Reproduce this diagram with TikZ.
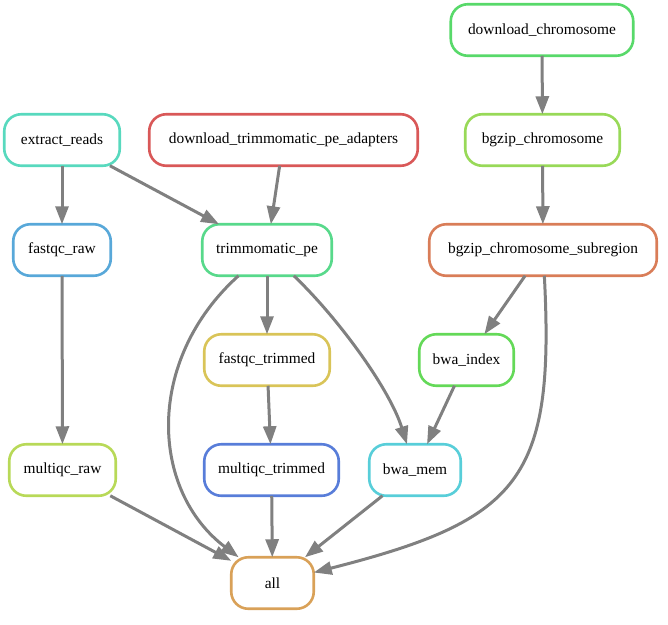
\documentclass[tikz,border=0pt]{standalone}
\usepackage{fontspec}
\setmainfont{Liberation Serif}
\usetikzlibrary{arrows.meta}
\definecolor{edgegray}{RGB}{128,128,128}
\definecolor{cDC}{RGB}{88,217,106}
\definecolor{cER}{RGB}{88,217,190}
\definecolor{cDT}{RGB}{217,88,88}
\definecolor{cBC}{RGB}{152,217,88}
\definecolor{cFR}{RGB}{88,168,217}
\definecolor{cTP}{RGB}{88,217,139}
\definecolor{cBS}{RGB}{217,125,88}
\definecolor{cFT}{RGB}{217,196,88}
\definecolor{cBI}{RGB}{100,217,88}
\definecolor{cMR}{RGB}{184,217,88}
\definecolor{cMT}{RGB}{88,125,217}
\definecolor{cBM}{RGB}{88,206,217}
\definecolor{cAL}{RGB}{217,161,88}
\tikzset{
  rule/.style={draw=#1, line width=2.6pt, rounded corners=17pt, fill=white,
    minimum height=51.5pt, inner sep=0pt, outer sep=0pt, font=\fontsize{15.4pt}{18pt}\selectfont},
  dep/.style={draw=edgegray, line width=3pt, -{Triangle[length=18pt,width=13pt]}}
}
\begin{document}
\begin{tikzpicture}[x=1pt,y=-1pt]
\useasboundingbox (0,0) rectangle (668,624);
\node[rule=cDC, minimum width=182.5pt] (dc) at (542,30) {download\_chromosome};
\node[rule=cER, minimum width=115.5pt] (er) at (62,140) {extract\_reads};
\node[rule=cDT, minimum width=268.5pt] (dt) at (283.5,140) {download\_trimmomatic\_pe\_adapters};
\node[rule=cBC, minimum width=154.5pt] (bc) at (542.5,140) {bgzip\_chromosome};
\node[rule=cFR, minimum width=97.5pt] (fr) at (62,250) {fastqc\_raw};
\node[rule=cTP, minimum width=129.5pt] (tp) at (267,250) {trimmomatic\_pe};
\node[rule=cBS, minimum width=227.5pt] (bs) at (543,250) {bgzip\_chromosome\_subregion};
\node[rule=cFT, minimum width=125.5pt] (ft) at (267,360) {fastqc\_trimmed};
\node[rule=cBI, minimum width=94.5pt] (bi) at (466.5,360) {bwa\_index};
\node[rule=cMR, minimum width=106.5pt] (mr) at (62.5,470) {multiqc\_raw};
\node[rule=cMT, minimum width=134.5pt] (mt) at (271.5,470) {multiqc\_trimmed};
\node[rule=cBM, minimum width=91.5pt] (bm) at (415,470) {bwa\_mem};
\node[rule=cAL, minimum width=82.5pt] (al) at (272.5,583) {all};

\draw[dep] (dc) -- (bc);
\draw[dep] (bc) -- (bs);
\draw[dep] (er) -- (fr);
\draw[dep] (er) -- (tp);
\draw[dep] (dt) -- (tp);
\draw[dep] (fr) -- (mr);
\draw[dep] (tp) -- (ft);
\draw[dep] (tp) .. controls (340,320) and (390,390) .. (bm);
\draw[dep] (tp) .. controls (145,360) and (150,490) .. (al);
\draw[dep] (ft) -- (mt);
\draw[dep] (bs) -- (bi);
\draw[dep] (bs) .. controls (555,480) and (520,520) .. (al);
\draw[dep] (bi) -- (bm);
\draw[dep] (mr) -- (al);
\draw[dep] (mt) -- (al);
\draw[dep] (bm) -- (al);
\end{tikzpicture}
\end{document}
